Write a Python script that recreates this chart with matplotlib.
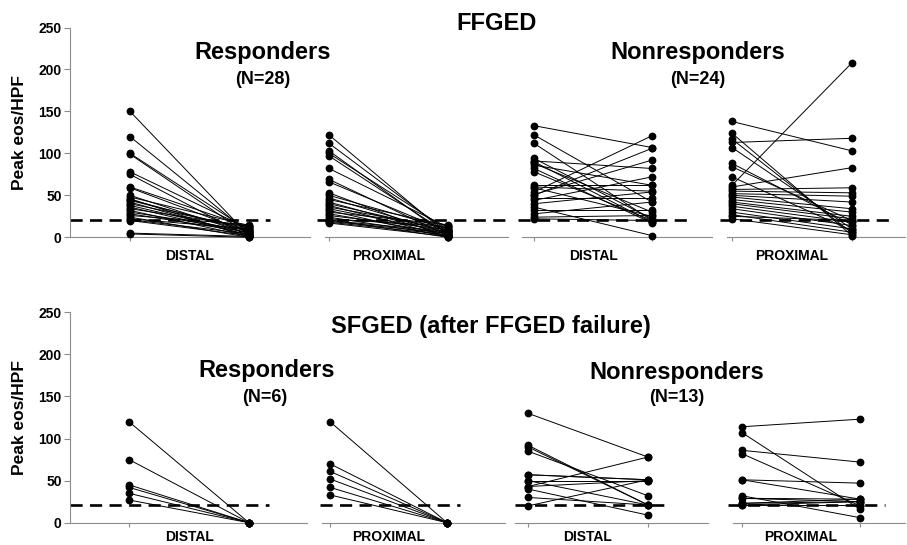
import matplotlib
matplotlib.use("Agg")
import matplotlib.pyplot as plt

plt.rcParams['font.family'] = ['Liberation Sans', 'DejaVu Sans']
plt.rcParams['font.weight'] = 'bold'

# threshold (peak eos/HPF)
threshold = 21

# FFGED responders (N=28)
ff_resp_distal_pre = [150, 120, 100, 99, 78, 75, 60, 59, 50, 48, 46, 45, 44, 42, 40, 38, 36, 34, 32, 30, 28, 26, 24, 22, 21, 20, 5, 4]
ff_resp_distal_post = [2, 5, 8, 3, 10, 1, 12, 6, 4, 14, 0, 7, 9, 2, 11, 5, 3, 13, 1, 8, 6, 15, 0, 10, 4, 2, 1, 0]
ff_resp_prox_pre = [122, 112, 103, 100, 97, 82, 69, 66, 53, 50, 47, 45, 42, 40, 38, 36, 34, 32, 30, 28, 26, 24, 22, 21, 20, 19, 18, 17]
ff_resp_prox_post = [3, 6, 1, 9, 4, 12, 2, 7, 0, 10, 5, 14, 3, 8, 1, 11, 6, 0, 15, 4, 9, 2, 13, 0, 7, 5, 3, 1]

# FFGED nonresponders (N=24)
ff_non_distal_pre = [133, 122, 112, 94, 91, 88, 86, 82, 78, 62, 59, 54, 51, 47, 44, 40, 36, 32, 28, 24, 22, 90, 60, 50]
ff_non_distal_post = [107, 42, 20, 22, 82, 30, 62, 17, 20, 62, 25, 121, 92, 47, 72, 54, 2, 32, 42, 26, 20, 18, 55, 106]
ff_non_prox_pre = [138, 124, 117, 113, 107, 88, 84, 72, 62, 60, 57, 55, 52, 50, 48, 45, 42, 40, 37, 34, 30, 27, 25, 22]
ff_non_prox_post = [103, 2, 5, 118, 10, 15, 20, 8, 208, 83, 59, 53, 49, 42, 34, 30, 25, 22, 18, 14, 10, 6, 20, 3]

# SFGED responders (N=6)
sf_resp_distal_pre = [120, 75, 45, 42, 35, 27]
sf_resp_distal_post = [0, 0, 0, 0, 0, 0]
sf_resp_prox_pre = [120, 70, 61, 52, 42, 33]
sf_resp_prox_post = [0, 0, 0, 0, 0, 0]

# SFGED nonresponders (N=13)
sf_non_distal_pre = [130, 92, 90, 85, 57, 50, 43, 40, 30, 20, 50, 43, 57]
sf_non_distal_post = [78, 21, 21, 32, 51, 21, 78, 9, 21, 51, 50, 50, 51]
sf_non_prox_pre = [114, 107, 86, 82, 51, 32, 29, 23, 21, 21, 23, 29, 51]
sf_non_prox_post = [123, 16, 72, 20, 47, 6, 28, 25, 25, 21, 28, 25, 28]

yticks = [0, 50, 100, 150, 200, 250]
ylabel = 'Peak eos/HPF'

W, H = 907, 545
fig = plt.figure(figsize=(W / 100, H / 100), dpi=100)

# rows: (pixel y of 0, pixel y of 250, xlabel offset in points)
rows = [(237.3, 27.5, -13.5), (522.7, 312.3, -10.5)]

# (axis left, axis right, x of pre, x of post, dash left, dash right) in pixels
layout = [
    [(70, 310, 130, 249, 70, 270), (325, 508, 329, 448, 317, 507),
     (522, 712, 534, 652, 518, 690), (727, 905, 732, 852, 720, 893)],
    [(70, 307, 129, 249, 70, 269), (322, 505, 330, 447, 320, 460),
     (515, 708, 528, 648, 515, 670), (733, 905, 742, 860, 728, 885)],
]

data = [
    [(ff_resp_distal_pre, ff_resp_distal_post, 'DISTAL'),
     (ff_resp_prox_pre, ff_resp_prox_post, 'PROXIMAL'),
     (ff_non_distal_pre, ff_non_distal_post, 'DISTAL'),
     (ff_non_prox_pre, ff_non_prox_post, 'PROXIMAL')],
    [(sf_resp_distal_pre, sf_resp_distal_post, 'DISTAL'),
     (sf_resp_prox_pre, sf_resp_prox_post, 'PROXIMAL'),
     (sf_non_distal_pre, sf_non_distal_post, 'DISTAL'),
     (sf_non_prox_pre, sf_non_prox_post, 'PROXIMAL')],
]

axis_col = '#8c8c8c'

for r, (y0, y250, lab_off) in enumerate(rows):
    for c, (al, ar, xp, xq, dl, dr) in enumerate(layout[r]):
        pre, post, lab = data[r][c]
        ax = fig.add_axes([al / W, (H - y0) / H, (ar - al) / W, (y0 - y250) / H])
        sc = xq - xp
        ax.set_xlim((al - xp) / sc, (ar - xp) / sc)
        ax.set_ylim(0, 250)
        for a, b in zip(pre, post):
            ax.plot([0, 1], [a, b], color='black', lw=0.7, marker='o',
                    ms=4.6, mfc='black', mec='black', clip_on=False, zorder=3)
        ax.plot([(dl - xp) / sc, (dr - xp) / sc], [threshold, threshold], color='black',
                lw=1.9, linestyle=(0, (4.6, 2.8)), clip_on=False, zorder=2)
        for s in ['top', 'right']:
            ax.spines[s].set_visible(False)
        ax.spines['bottom'].set_color(axis_col)
        ax.spines['left'].set_color(axis_col)
        ax.set_xticks([0, 1])
        ax.set_xticklabels(['', ''])
        ax.tick_params(axis='x', length=3, color=axis_col)
        if c == 0:
            ax.set_yticks(yticks)
            ax.set_yticklabels([str(t) for t in yticks], fontsize=10, fontweight='bold')
            ax.tick_params(axis='y', length=4, color=axis_col, pad=2)
            ax.set_ylabel(ylabel, fontsize=12.5, fontweight='bold', labelpad=8)
        else:
            ax.spines['left'].set_visible(False)
            ax.set_yticks([])
        ax.annotate(lab, xy=(0.5, 0), xycoords=ax.get_xaxis_transform(),
                    xytext=(0, lab_off), textcoords='offset points',
                    ha='center', va='center', fontsize=10, fontweight='bold')
        ax.patch.set_visible(False)

def ftext(x, y, s, size):
    fig.text(x / W, 1 - y / H, s, ha='center', va='center', fontsize=size, fontweight='bold')

ftext(497, 23, 'FFGED', 17)
ftext(263, 53, 'Responders', 17)
ftext(263, 80, '(N=28)', 13)
ftext(698, 53, 'Nonresponders', 17)
ftext(698, 80, '(N=24)', 13)
ftext(491, 327, 'SFGED (after FFGED failure)', 17)
ftext(267, 371, 'Responders', 17)
ftext(265, 397, '(N=6)', 13)
ftext(677, 372, 'Nonresponders', 17)
ftext(677, 397, '(N=13)', 13)

fig.savefig('out.png', dpi=100)
